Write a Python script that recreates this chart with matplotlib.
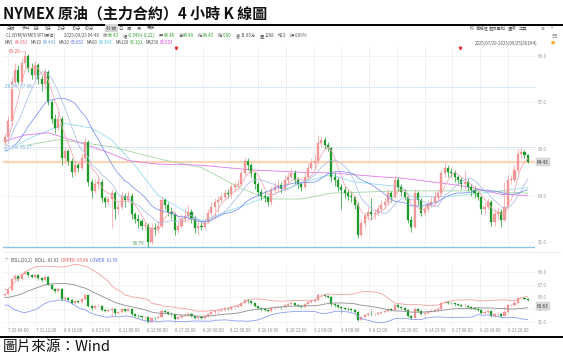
import matplotlib
matplotlib.use('Agg')
import matplotlib.pyplot as plt
import numpy as np
import pandas as pd
from matplotlib.lines import Line2D

plt.rcParams['font.family'] = ['Noto Sans CJK TC', 'DejaVu Sans']

# ---------------- data ----------------
first_open = 65.3
closes = [
    65.5, 66.2, 67.9, 68.4, 67.9, 68.7, 69.0, 68.5, 68.2, 68.6,
    68.0, 67.8, 68.3, 67.0, 66.3, 65.9, 66.3, 64.6, 64.9, 64.5,
    64.0, 64.3, 64.2, 64.6, 65.3, 63.6, 63.2, 63.5, 63.6, 62.9,
    62.7, 62.85, 63.1, 62.4, 62.5, 63.0, 62.8, 63.0, 62.2, 62.0,
    61.9, 61.7, 61.75, 61.0, 61.6, 61.55, 61.7, 62.8, 62.6, 62.3,
    62.2, 61.5, 61.7, 62.0, 62.1, 62.3, 62.0, 61.6, 61.7,
    61.65, 61.86, 62.25, 62.5, 62.7, 62.8, 62.95, 63.1, 63.05, 63.37,
    63.45, 63.5, 63.97, 64.5, 64.3, 63.97, 63.5, 63.15, 63.0, 62.95,
    62.7, 63.25, 63.37, 63.45, 63.3, 63.67, 63.8, 63.97, 63.67, 63.5,
    63.37, 63.8, 64.2, 64.4, 64.5, 65.25, 65.4, 65.17, 65.03, 63.8,
    63.67, 63.37, 63.25, 63.1, 63.0, 62.95, 62.6, 61.3, 61.8, 62.1,
    62.3, 62.2, 62.25, 62.4, 62.6,
    62.7, 63.1, 62.95, 63.67, 63.37, 63.15, 62.95, 61.95, 61.65, 63.1,
    62.8, 62.25, 62.4, 62.6, 62.7, 62.95, 63.1, 63.97, 64.2, 64.0,
    63.97, 63.8, 63.67, 63.5, 63.6, 63.37, 63.25, 63.1, 62.95, 62.4,
    62.5, 62.7, 61.86, 62.2, 62.3, 61.95, 62.5, 63.67, 63.67, 64.1,
    64.8, 64.87, 64.74, 64.43,
]
highs = [
    65.7, 66.4, 68.1, 68.7, 68.6, 68.9, 69.2, 69.1, 68.7, 68.8,
    68.7, 68.2, 68.5, 68.4, 67.1, 66.5, 66.6, 66.4, 65.1, 65.0,
    64.6, 64.5, 64.4, 64.8, 65.5, 65.4, 63.7, 63.7, 63.8, 63.7,
    63.0, 63.0, 63.3, 63.2, 62.7, 63.2, 63.1, 63.2, 63.1, 62.3,
    62.2, 62.0, 61.9, 61.8, 61.8, 61.8, 61.9, 63.0, 62.9, 62.7,
    62.5, 62.3, 61.9, 62.2, 62.4, 62.6, 62.4, 62.1, 61.9,
    61.9, 62.0, 62.4, 62.7, 62.9, 63.0, 63.1, 63.3, 63.3, 63.5,
    63.6, 63.7, 64.1, 64.65, 64.6, 64.4, 64.0, 63.6, 63.3, 63.2,
    63.0, 63.4, 63.6, 63.7, 63.6, 63.9, 64.0, 64.2, 64.1, 63.8,
    63.6, 64.0, 64.4, 64.6, 64.8, 65.6, 65.5, 65.5, 65.3, 65.1,
    64.0, 63.8, 63.5, 63.4, 63.3, 63.2, 63.0, 62.7, 62.0, 62.3,
    62.5, 62.9, 62.4, 62.6, 62.8,
    62.9, 63.3, 63.2, 63.9, 63.8, 63.5, 63.3, 63.0, 62.1, 63.3,
    63.2, 62.9, 62.6, 62.8, 63.0, 63.2, 63.3, 64.1, 64.4, 64.3,
    64.2, 64.1, 63.9, 63.8, 64.1, 63.7, 63.5, 63.4, 63.2, 63.0,
    62.7, 62.9, 62.8, 62.4, 62.5, 62.4, 63.6, 63.9, 63.9, 64.3,
    65.0, 65.05, 64.95, 64.8,
]
lows = [
    65.1, 65.3, 66.0, 67.7, 67.6, 67.8, 68.5, 68.3, 68.0, 68.0,
    67.8, 67.5, 67.6, 66.9, 66.1, 65.7, 65.8, 64.3, 64.4, 64.3,
    63.8, 63.9, 64.0, 64.1, 64.5, 63.4, 62.9, 63.1, 63.3, 62.7,
    62.5, 62.6, 61.6, 62.0, 62.2, 62.4, 62.5, 62.7, 62.0, 61.8,
    61.6, 61.5, 61.5, 60.79, 60.9, 61.3, 61.4, 61.6, 62.4, 62.1,
    62.0, 61.3, 61.4, 61.6, 61.9, 62.0, 61.8, 61.4, 61.3,
    61.5, 61.5, 61.8, 62.1, 62.0, 62.3, 62.7, 62.8, 62.9, 62.9,
    63.2, 63.3, 63.4, 63.9, 64.1, 63.8, 63.3, 63.0, 62.8, 62.7,
    62.55, 62.6, 63.1, 63.2, 63.1, 63.2, 63.5, 63.7, 63.5, 63.3,
    63.2, 63.3, 63.7, 64.1, 64.2, 64.4, 65.1, 65.0, 64.9, 63.6,
    63.4, 63.2, 62.4, 62.9, 62.8, 62.7, 62.4, 61.17, 61.2, 61.6,
    62.0, 62.0, 62.0, 62.1, 62.3,
    62.4, 62.6, 62.7, 62.9, 63.2, 63.0, 62.8, 61.8, 61.45, 61.6,
    62.6, 62.1, 62.1, 62.3, 62.5, 62.6, 62.8, 63.0, 63.8, 63.8,
    63.8, 63.6, 63.5, 63.3, 63.3, 63.2, 63.0, 62.9, 62.8, 62.2,
    62.2, 62.4, 61.7, 61.7, 62.0, 61.65, 61.9, 62.4, 63.5, 63.6,
    64.0, 64.6, 64.6, 64.4,
]
# closes before the first visible bar (warm-up for MA / BOLL)
prior_closes = [65.8, 66.0, 65.6, 65.2, 64.8, 64.3, 64.0, 64.2, 64.5, 64.1,
                63.9, 64.4, 64.9, 65.3, 65.6, 65.2, 64.9, 65.1, 65.3]

# long moving averages (bar index, value)
ma60_idx = [0, 8, 18, 26, 32, 39, 46, 59, 74, 79, 89, 98, 104, 119, 122, 133, 143, 157]
ma60_val = [64.9, 65.5, 66.1, 65.9, 65.4, 64.3, 63.0, 61.9, 62.7, 62.95, 63.55, 63.9,
            63.6, 63.37, 62.95, 62.95, 63.1, 63.34]
ma120_idx = [0, 16, 32, 47, 59, 71, 79, 89, 98, 119, 143, 157]
ma120_val = [65.0, 65.4, 65.1, 64.55, 64.2, 63.3, 62.85, 62.85, 63.1, 63.2, 63.2, 63.1]
ma250_idx = [0, 6, 13, 22, 31, 37, 46, 59, 74, 89, 98, 113, 119, 133, 140, 149, 157]
ma250_val = [65.35, 65.6, 65.7, 65.3, 64.85, 64.5, 64.35, 64.3, 64.1, 64.0, 63.97, 63.8,
             63.75, 63.5, 63.35, 63.05, 63.0]

date_labels = ["7.29 04:00", "7.31 12:00", "8.4 16:00", "8.6 23:59", "8.11 00:00",
               "8.13 00:00", "8.17 20:00", "8.20 00:00", "8.22 08:00", "8.26 16:00",
               "8.28 23:59", "9.2 00:00", "9.4 08:00", "9.8 12:00", "9.10 20:00",
               "9.14 23:59", "9.17 08:00", "9.19 16:00", "9.23 20:00"]

last_price = 64.43
boll_last = 63.63
fib_levels = [(67.68, "38.2%  67.68"), (65.07, "23.6%  65.07")]
hi_price = 69.20
lo_price = 60.79

# ---------------- derived ----------------
opens = [first_open] + closes[:-1]
n = len(closes)
idx = np.arange(n)
allc = pd.Series(prior_closes + closes)
p = len(prior_closes)
ma5 = allc.rolling(5).mean().values[p:]
ma10 = allc.rolling(10).mean().values[p:]
ma20 = allc.rolling(20, min_periods=1).mean().values[p:]
sd20 = allc.rolling(20, min_periods=1).std(ddof=0).values[p:]
boll_up = ma20 + 2 * sd20
boll_dn = ma20 - 2 * sd20

# ---------------- figure ----------------
W, H = 563, 356
fig = plt.figure(figsize=(W / 100, H / 100), dpi=100)
renderer = fig.canvas.get_renderer()


def rect(l, t, r, b):
    return [l / W, 1 - b / H, (r - l) / W, (b - t) / H]


def fx(x):
    return x / W


def fy(y):
    return 1 - y / H


UP = '#f39c9c'
UPE = '#ee7d7d'
DN = '#1d9a2a'

grid_idx = [1.05 + 8.33 * j for j in range(20)]
XL = (-0.6, 159.16)


def draw_candles(ax, width=0.62, lw=0.5):
    o = np.array(opens); c = np.array(closes)
    h = np.array(highs); l = np.array(lows)
    up = c >= o
    for mask, col, ecol in ((up, UP, UPE), (~up, DN, DN)):
        ax.vlines(idx[mask], l[mask], h[mask], color=col, lw=lw, zorder=3)
        body = np.maximum(np.abs(c - o), 0.02)
        ax.bar(idx[mask], body[mask], bottom=np.minimum(o, c)[mask], width=width,
               color=col, edgecolor=ecol, linewidth=0.2, zorder=4)


def style_axis(ax, yticks):
    ax.set_xlim(*XL)
    for s in ax.spines.values():
        s.set_visible(False)
    ax.yaxis.tick_right()
    ax.set_yticks(yticks)
    ax.set_yticklabels([f"{v:.1f}" for v in yticks])
    ax.tick_params(axis='y', length=0, labelsize=3.3, labelcolor='#9a9a9a', pad=2)
    for g in grid_idx:
        ax.axvline(g, color='#ececec', lw=0.5, zorder=0)
    for v in yticks:
        ax.axhline(v, color='#f0f0f0', lw=0.5, zorder=0)


# main panel
ax = fig.add_axes(rect(3, 47, 535, 249))
ax.set_ylim(60.699, 69.387)
style_axis(ax, [61, 63, 65, 67, 69])
ax.set_xticks([])

draw_candles(ax)
ax.plot(idx, ma5, color='#f5a6ae', lw=0.55, zorder=5)
ax.plot(idx, ma10, color='#a9bde6', lw=0.55, zorder=5)
ax.plot(idx, ma20, color='#7a8ff0', lw=0.55, zorder=5)
ax.plot(ma60_idx, ma60_val, color='#93dcef', lw=0.6, zorder=2)
ax.plot(ma120_idx, ma120_val, color='#a3d6a3', lw=0.6, zorder=2)
ax.plot(ma250_idx, ma250_val, color='#e07ae8', lw=0.6, zorder=2)

ax.axhline(last_price, color='#fbd3b5', lw=1.6, zorder=1)
for lv, txt in fib_levels:
    ax.axhline(lv, color='#a9cdee', lw=0.6, ls=(0, (1.5, 1.5)), zorder=1)
    ax.text(0.004, lv, txt, transform=ax.get_yaxis_transform(), fontsize=3.3,
            color='#6fa3d8', va='center', ha='left', zorder=6,
            bbox=dict(facecolor='white', edgecolor='none', pad=0.2, alpha=0.7))
ax.axhline(lo_price, color='#8fc3ea', lw=1.0, zorder=1)
ax.text(38.5, lo_price + 0.02, f"{lo_price:.2f}", fontsize=3.3, color='#4f9a5f',
        va='bottom', ha='left', zorder=6)
ax.text(1.2, hi_price, f"{hi_price:.2f}", fontsize=3.3, color='#e05a5a',
        va='center', ha='left', zorder=6)
ax.plot([4.4, 6], [hi_price, hi_price], color='#e8a0a0', lw=0.4, zorder=6)

# lower (BOLL) panel
ax2 = fig.add_axes(rect(3, 264, 535, 326))
ax2.set_ylim(60.30, 70.34)
style_axis(ax2, [61, 63, 65, 67, 69])
draw_candles(ax2, width=0.62, lw=0.4)
ax2.plot(idx, ma20, color='#8c8c8c', lw=0.6, zorder=5)
ax2.plot(idx, boll_up, color='#f2a0a0', lw=0.6, zorder=5)
ax2.plot(idx, boll_dn, color='#8d9cf2', lw=0.6, zorder=5)
ax2.set_xticks(grid_idx[:len(date_labels)])
ax2.set_xticklabels(date_labels, ha='left')
ax2.tick_params(axis='x', length=0, labelsize=3.1, labelcolor='#8a8a8a', pad=1.8)

# price boxes on the right
fig.text(fx(537), fy(162), f"{last_price:.2f}", fontsize=3.4, color='#333', va='center',
         ha='left', bbox=dict(facecolor='#dcdcdc', edgecolor='#c8c8c8', lw=0.3, pad=0.9))
fig.text(fx(537), fy(306), f"{boll_last:.2f}", fontsize=3.4, color='#333', va='center',
         ha='left', bbox=dict(facecolor='#dcdcdc', edgecolor='#c8c8c8', lw=0.3, pad=0.9))

# ---------------- texts ----------------
fig.text(fx(3), fy(13), "NYMEX 原油（主力合約）4 小時 K 線圖", fontsize=10.8,
         fontweight='bold', va='center', ha='left', color='#111')
fig.add_artist(Line2D([0, 1], [fy(24.5), fy(24.5)], color='black', lw=1.4))
fig.add_artist(Line2D([0, 1], [fy(336.5), fy(336.5)], color='black', lw=1.4))
fig.text(fx(3), fy(346.5), "圖片來源：Wind", fontsize=10.5, va='center', ha='left',
         color='#111')
fig.add_artist(Line2D([fx(3), fx(560)], [fy(252), fy(252)], color='#e4e4e4', lw=0.5))

FS = 3.1


def flow(items, x0, y, fs=FS):
    """place text pieces one after another; each item = (text, color, gap_after_px)"""
    x = x0
    for t, c, g in items:
        tx = fig.text(fx(x), fy(y), t, fontsize=fs, color=c, va='center', ha='left')
        w = tx.get_window_extent(renderer).width
        x += w + g


tool = [("分時", 7), ("多日", 22), ("1分", 33), ("5分", 45), ("15分", 57), ("30分", 72),
        ("60分", 85), ("4小時", 106), ("日", 118), ("周", 127), ("月", 137), ("更多", 147)]
for t, x in tool:
    kw = {}
    if t == "4小時":
        kw['bbox'] = dict(facecolor='#d6d6d6', edgecolor='none', pad=0.8)
    fig.text(fx(x), fy(28), t, fontsize=FS, color='#555', va='center', ha='left', **kw)
for t, x in [("F9", 470), ("商務程", 476), ("超級疊加", 489), ("畫線", 508), ("工具", 519),
             ("⚙", 541), ("»", 551)]:
    fig.text(fx(x), fy(28), t, fontsize=FS, color='#555', va='center', ha='left')

G = '#2a9a2a'
K = '#555'
flow([("CL.NYM[NYMEX WTI原油]", K, 9), ("2025/09/25 04:48", K, 4),
      ("收", K, 0.6), ("64.43", G, 4), ("幅", K, 0.6), ("-0.34%(-0.22)", G, 4),
      ("开", K, 0.6), ("64.46", G, 4), ("高", K, 0.6), ("64.49", G, 4),
      ("低", K, 0.6), ("64.43", G, 4), ("結", K, 0.6), ("0.00", G, 4),
      ("倉", K, 0.6), ("31.85万", K, 4), ("量", K, 0.6), ("1268", K, 4),
      ("增", K, 0.6), ("0", K, 4), ("振", K, 0.6), ("0.09%", K, 4)], 6, 35.5)

flow([("MA5", K, 1), ("64.651", '#ee5a6a', 3), ("MA10", K, 1), ("64.441", '#5b9bd5', 3),
      ("MA20", K, 1), ("63.631", '#4a62e6', 3), ("MA60", K, 1), ("63.341", '#33bcd6', 3),
      ("MA120", K, 1), ("63.101", '#3aaa3a', 3), ("MA250", K, 1), ("63.001", '#d63ad6', 3)],
     5, 43)
fig.text(fx(475), fy(43), "2025/07/29-2025/09/25(301H4)", fontsize=FS, color=K,
         va='center', ha='left')
fig.text(fx(551), fy(43), "■", fontsize=3, color='#f0b030', va='center', ha='left')
fig.text(fx(551), fy(36), "▤", fontsize=4, color='#999', va='center', ha='left')

for x in (176, 460):
    fig.add_artist(Line2D([fx(x)], [fy(48)], marker='v', markersize=1.8, color='#e03030',
                          lw=0))

flow([("⊤", '#888', 2), ("BOLL(20,2)", K, 2), ("BOLL: 63.63", K, 2.5),
      ("UPPER: 65.68", '#e05555', 2.5), ("LOWER: 61.59", '#5a70e8', 2)], 5, 260)

fig.savefig('out.png', dpi=100)
